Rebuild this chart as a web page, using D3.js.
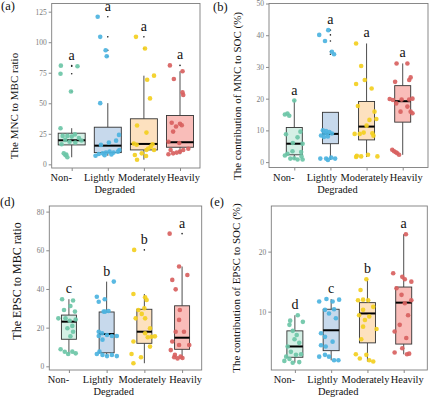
<!DOCTYPE html>
<html>
<head>
<meta charset="utf-8">
<script src="https://cdn.jsdelivr.net/npm/d3@7"></script>
<style>
  body { margin: 0; background: #fff; }
  svg { display: block; }
</style>
</head>
<body>
<svg width="436" height="400"></svg>
<script>
// categories and colours
const categories = ["Non-", "Lightly", "Moderately", "Heavily"];
const pointColors = ["#6cc5a7", "#4cb3e0", "#f3cf20", "#d8615f"];
const boxFills = ["#d5f0e6", "#c7d9ec", "#fde1bf", "#f9bdb9"];
const labelShift = [-11, -9, -2.5, 3];

// (a) MNC to MBC ratio -- points are [jitter (category units), value]
const mncRatioPoints = [
  [[-0.30,80.8],[0.16,80.3],[-0.31,74.2],[-0.02,59.7],[-0.31,29.6],[-0.25,23.3],[-0.12,23.3],[0.0,22.7],[0.09,24.5],[0.2,21.5],[-0.18,20.0],[-0.06,18.5],[0.1,17.8],[0.27,19.5],[-0.28,16.5],[-0.22,9.0],[-0.17,7.5],[-0.12,5.8],[-0.15,8.0]],
  [[-0.28,120.8],[-0.21,104.4],[-0.06,93.4],[-0.03,88.5],[-0.21,50.1],[-0.34,7.0],[-0.25,8.5],[-0.14,9.0],[-0.09,7.5],[-0.05,9.6],[0.05,10.4],[0.16,9.6],[0.28,10.4],[0.32,11.8],[0.03,17.8],[0.23,19.4],[0.31,24.1],[-0.19,15.9],[0.1,8.0]],
  [[-0.22,104.4],[0.03,94.8],[0.28,72.6],[0.09,69.3],[0.17,54.0],[-0.19,31.8],[0.07,26.0],[-0.28,17.0],[-0.2,16.0],[-0.06,9.0],[-0.25,7.6],[-0.19,3.8],[0.07,11.8],[0.19,14.5],[0.28,11.8],[0.06,6.8],[0.24,16.5],[0.12,13.0]],
  [[-0.28,81.0],[0.07,76.2],[-0.17,69.9],[0.07,58.9],[0.09,56.8],[-0.23,34.0],[0.0,33.2],[-0.11,31.0],[0.05,32.0],[-0.19,26.8],[-0.32,18.5],[-0.26,11.8],[-0.19,9.0],[-0.09,9.6],[0.0,10.4],[-0.32,8.2],[0.09,11.8],[0.23,12.8],[-0.02,17.5]]
];
// [lower whisker, q1, median, q3, upper whisker]
const mncRatioBoxes = [[5.8,15.9,19.7,25.5,29.6],[7.0,9.6,15.3,30.4,50.1],[3.8,11.8,16.7,37.3,72.6],[8.2,14.0,18.1,40.0,76.2]];
const mncRatioLetters = ["a","a","a","a"];
const mncRatioTicks = [0,25,50,75,100,125];

// (b) contribution of MNC to SOC (%)
const mncSocPoints = [
  [[0.0,19.4],[-0.26,15.0],[-0.19,15.3],[-0.14,14.6],[0.17,9.6],[-0.23,8.8],[0.09,7.8],[0.23,5.8],[-0.19,2.6],[-0.05,3.4],[0.19,3.2],[-0.26,2.1],[-0.11,1.1],[0.09,0.8],[0.23,0.8],[0.0,1.2],[-0.04,6.0],[0.2,1.8]],
  [[-0.31,40.1],[-0.06,41.6],[-0.15,38.2],[0.04,34.8],[0.1,34.0],[-0.26,8.4],[-0.17,9.2],[-0.09,9.0],[-0.03,9.5],[0.04,9.0],[-0.21,10.0],[-0.12,9.8],[-0.07,8.1],[-0.18,7.9],[-0.28,1.1],[-0.12,1.1],[0.02,1.4],[0.13,1.1],[-0.07,0.7]],
  [[-0.29,37.4],[-0.15,30.3],[-0.29,24.6],[-0.05,25.9],[0.14,23.2],[-0.24,17.7],[0.22,15.9],[0.08,13.3],[0.27,13.6],[0.0,11.5],[-0.19,8.9],[-0.33,8.9],[0.16,9.1],[-0.08,9.3],[0.19,8.3],[-0.15,1.8],[-0.27,2.0],[0.04,2.3],[0.3,1.8],[-0.29,1.6]],
  [[-0.17,31.1],[0.13,31.1],[-0.21,25.3],[0.18,25.9],[0.22,26.7],[-0.36,19.9],[-0.27,19.6],[-0.03,19.7],[0.18,19.7],[0.27,20.0],[-0.18,18.5],[0.13,17.5],[0.22,15.9],[-0.06,15.9],[0.27,15.4],[-0.29,3.9],[-0.24,3.4],[-0.19,3.1],[-0.15,2.8],[-0.1,2.3]]
];
const mncSocBoxes = [[0.8,2.3,5.8,10.9,19.6],[0.7,5.8,8.9,15.7,15.7],[1.6,7.0,11.2,19.1,37.4],[2.3,12.6,19.2,24.1,31.1]];
const mncSocLetters = ["a","a","a","a"];
const mncSocTicks = [0,10,20,30,40,50];

// (d) EPSC to MBC ratio
const epscRatioPoints = [
  [[-0.18,34.7],[0.11,34.0],[0.04,31.2],[-0.13,29.1],[0.16,28.3],[-0.28,24.8],[-0.09,24.8],[0.02,23.6],[0.18,24.2],[0.09,20.9],[-0.04,19.7],[0.11,17.9],[-0.22,8.8],[0.09,7.6],[-0.02,6.4],[0.18,6.7],[-0.11,7.5],[0.04,15.5]],
  [[0.19,43.8],[-0.26,36.0],[-0.05,34.7],[-0.21,33.4],[-0.08,28.3],[-0.04,28.3],[0.05,28.6],[-0.21,17.9],[-0.12,17.1],[0.01,16.2],[-0.21,15.7],[0.14,15.7],[0.27,15.7],[-0.11,13.8],[-0.19,7.6],[-0.11,5.9],[0.01,5.3],[0.14,5.9],[0.27,5.3],[-0.26,6.4]],
  [[-0.27,60.2],[-0.29,37.4],[0.02,35.7],[0.06,34.3],[0.0,30.0],[-0.16,29.1],[-0.07,27.1],[-0.23,24.8],[0.02,24.8],[0.15,19.7],[0.02,17.1],[0.19,15.3],[0.09,15.0],[0.28,15.5],[-0.29,12.8],[0.15,10.2],[-0.34,6.4],[-0.09,4.7],[-0.29,1.6]],
  [[-0.33,68.6],[-0.08,51.6],[0.14,47.2],[-0.26,44.7],[-0.17,39.8],[-0.06,29.1],[-0.08,24.0],[-0.17,17.9],[0.05,17.9],[-0.26,12.8],[0.19,11.0],[-0.08,11.0],[-0.3,8.4],[-0.19,5.9],[-0.04,5.0],[-0.12,4.1],[0.01,4.3],[-0.21,4.7]]
];
const epscRatioBoxes = [[6.4,14.0,23.1,26.5,34.7],[5.3,7.0,16.7,28.1,43.8],[1.6,11.9,17.9,29.5,37.4],[4.1,8.8,14.8,31.3,51.6]];
const epscRatioLetters = ["c","b","b","a"];
const epscRatioTicks = [0,20,40,60,80];

// (e) contribution of EPSC to SOC (%)
const epscSocPoints = [
  [[0.08,9.4],[-0.13,8.5],[0.22,8.3],[-0.15,7.8],[-0.06,6.8],[0.05,6.1],[-0.01,5.4],[0.12,4.8],[-0.2,4.2],[-0.11,3.3],[0.17,2.9],[0.03,2.8],[-0.24,2.5],[-0.15,2.1],[-0.29,1.8],[-0.06,1.5],[0.12,1.6]],
  [[-0.13,12.1],[0.22,12.0],[0.04,11.7],[-0.33,11.7],[-0.17,10.3],[0.08,10.4],[-0.06,9.7],[0.13,8.9],[-0.28,6.4],[-0.17,5.8],[0.04,5.0],[-0.28,4.4],[-0.15,4.2],[-0.17,2.8],[-0.06,2.5],[0.08,1.9],[0.2,1.9],[-0.33,2.5]],
  [[-0.03,15.4],[-0.19,13.6],[-0.26,11.9],[-0.12,12.0],[0.02,11.9],[0.16,10.8],[-0.12,10.3],[-0.23,9.4],[0.05,9.2],[0.25,7.1],[-0.07,8.6],[-0.12,7.5],[-0.17,5.4],[-0.32,2.9],[-0.03,2.8],[-0.21,2.2],[0.05,1.9],[0.16,1.7]],
  [[0.06,22.9],[-0.29,16.4],[-0.04,15.8],[0.03,15.4],[0.21,15.0],[-0.2,13.9],[-0.06,12.8],[0.21,11.9],[0.03,11.4],[0.12,9.4],[-0.11,7.8],[-0.25,6.7],[0.07,5.6],[-0.04,3.9],[-0.25,3.2],[0.09,2.9],[0.15,3.0]]
];
const epscSocBoxes = [[1.5,2.4,4.2,6.8,9.4],[1.9,3.5,6.9,10.4,12.1],[1.7,4.8,9.7,11.5,15.4],[2.9,4.6,11.5,14.1,22.9]];
const epscSocLetters = ["d","c","b","a"];
const epscSocTicks = [10,20];

const serif = "'Liberation Serif', 'Times New Roman', serif";
const svg = d3.select("svg");

const panels = [
  { tag: "(a)", tagPos: [1, 10], title: "The MNC to MBC ratio", titlePos: [14, 106], titleSize: 11,
    frame: [51.7, 3.5, 200, 168], yDomain: [-3.0, 131.7], pad: 0.554, boxW: 27,
    ticks: mncRatioTicks, points: mncRatioPoints, boxes: mncRatioBoxes, letters: mncRatioLetters },
  { tag: "(b)", tagPos: [213, 11], title: "The contribution of MNC to SOC (%)", titlePos: [237, 96], titleSize: 11,
    frame: [269, 3.5, 428, 167.5], yDomain: [-1.7, 50.0], pad: 0.7, boxW: 16,
    ticks: mncSocTicks, points: mncSocPoints, boxes: mncSocBoxes, letters: mncSocLetters },
  { tag: "(d)", tagPos: [0, 206], title: "The EPSC to MBC ratio", titlePos: [17, 281], titleSize: 12,
    frame: [49.3, 206, 201.7, 370], yDomain: [-1.9, 82.9], pad: 0.52, boxW: 15,
    ticks: epscRatioTicks, points: epscRatioPoints, boxes: epscRatioBoxes, letters: epscRatioLetters },
  { tag: "(e)", tagPos: [210, 206], title: "The contribution of EPSC to SOC (%)", titlePos: [236, 288], titleSize: 11,
    frame: [271.3, 206, 427.3, 370], yDomain: [0.28, 27.6], pad: 0.65, boxW: 16,
    ticks: epscSocTicks, points: epscSocPoints, boxes: epscSocBoxes, letters: epscSocLetters }
];

panels.forEach(drawPanel);

function drawPanel(p) {
  const [x0, y0, x1, y1] = p.frame;
  const x = d3.scalePoint().domain(categories).range([x0, x1]).padding(p.pad);
  const step = x.step();
  const y = d3.scaleLinear().domain(p.yDomain).range([y1, y0]);
  const g = svg.append("g");

  // panel frame
  g.append("rect")
    .attr("x", x0).attr("y", y0)
    .attr("width", x1 - x0).attr("height", y1 - y0)
    .attr("fill", "none").attr("stroke", "#7d7d7d").attr("stroke-width", 0.9);

  // y axis
  g.append("g")
    .attr("transform", `translate(${x0},0)`)
    .call(d3.axisLeft(y).tickValues(p.ticks).tickSize(3).tickPadding(2))
    .call(a => {
      a.select(".domain").remove();
      a.selectAll("line").attr("stroke", "#8a8a8a");
      a.selectAll("text").attr("fill", "#7a7a7a").attr("font-family", serif).attr("font-size", 7.5);
    });

  // x axis
  g.append("g")
    .attr("transform", `translate(0,${y1})`)
    .call(d3.axisBottom(x).tickSize(3))
    .call(a => {
      a.select(".domain").remove();
      a.selectAll("line").attr("stroke", "#8a8a8a");
      a.selectAll("text")
        .attr("y", 13).attr("dy", 0)
        .attr("dx", (d, i) => labelShift[i])
        .attr("fill", "#111").attr("font-family", serif).attr("font-size", 10.4);
    });

  g.append("text")
    .attr("x", x(categories[1]) + 7).attr("y", y1 + 25)
    .attr("text-anchor", "middle")
    .attr("font-family", serif).attr("font-size", 10.4).attr("fill", "#111")
    .text("Degraded");

  // y title
  g.append("text")
    .attr("transform", `translate(${p.titlePos[0]},${p.titlePos[1]}) rotate(-90)`)
    .attr("text-anchor", "middle").attr("dy", "0.35em")
    .attr("font-family", serif).attr("font-size", p.titleSize).attr("fill", "#111")
    .text(p.title);

  // panel tag
  g.append("text")
    .attr("x", p.tagPos[0]).attr("y", p.tagPos[1])
    .attr("font-family", serif).attr("font-size", 12.5).attr("fill", "#111")
    .text(p.tag);

  // boxplots
  const groups = g.selectAll(".grp")
    .data(categories.map((c, i) => ({ c, i, box: p.boxes[i], pts: p.points[i] })))
    .join("g").attr("class", "grp");

  groups.append("line")
    .attr("x1", d => x(d.c)).attr("x2", d => x(d.c))
    .attr("y1", d => y(d.box[3])).attr("y2", d => y(d.box[4]))
    .attr("stroke", "#3a3a3a").attr("stroke-width", 0.9);
  groups.append("line")
    .attr("x1", d => x(d.c)).attr("x2", d => x(d.c))
    .attr("y1", d => y(d.box[0])).attr("y2", d => y(d.box[1]))
    .attr("stroke", "#3a3a3a").attr("stroke-width", 0.9);
  groups.append("rect")
    .attr("x", d => x(d.c) - p.boxW / 2)
    .attr("y", d => y(d.box[3]))
    .attr("width", p.boxW)
    .attr("height", d => y(d.box[1]) - y(d.box[3]))
    .attr("fill", d => boxFills[d.i])
    .attr("stroke", "#333").attr("stroke-width", 0.9);
  groups.append("line")
    .attr("x1", d => x(d.c) - p.boxW / 2).attr("x2", d => x(d.c) + p.boxW / 2)
    .attr("y1", d => y(d.box[2])).attr("y2", d => y(d.box[2]))
    .attr("stroke", "#000").attr("stroke-width", 2);

  // outliers (ggplot draws them small and black at the box centre)
  groups.selectAll(".out")
    .data(d => d.pts.filter(v => v[1] > d.box[4] + 0.01 || v[1] < d.box[0] - 0.01).map(v => ({ c: d.c, v: v[1] })))
    .join("circle").attr("class", "out")
    .attr("cx", d => x(d.c)).attr("cy", d => y(d.v))
    .attr("r", 0.8).attr("fill", "#222");

  // jittered points
  groups.selectAll(".pt")
    .data(d => d.pts.map(v => ({ c: d.c, i: d.i, jx: v[0], v: v[1] })))
    .join("circle").attr("class", "pt")
    .attr("cx", d => x(d.c) + d.jx * step)
    .attr("cy", d => y(d.v))
    .attr("r", 2.3)
    .attr("fill", d => pointColors[d.i])
    .attr("fill-opacity", 0.92);

  // significance letters
  groups.append("text")
    .attr("x", d => x(d.c))
    .attr("y", d => y(d3.max(d.pts, v => v[1])) - 6)
    .attr("text-anchor", "middle")
    .attr("font-family", serif).attr("font-size", 14).attr("fill", "#111")
    .text(d => p.letters[d.i]);
}
</script>
</body>
</html>
